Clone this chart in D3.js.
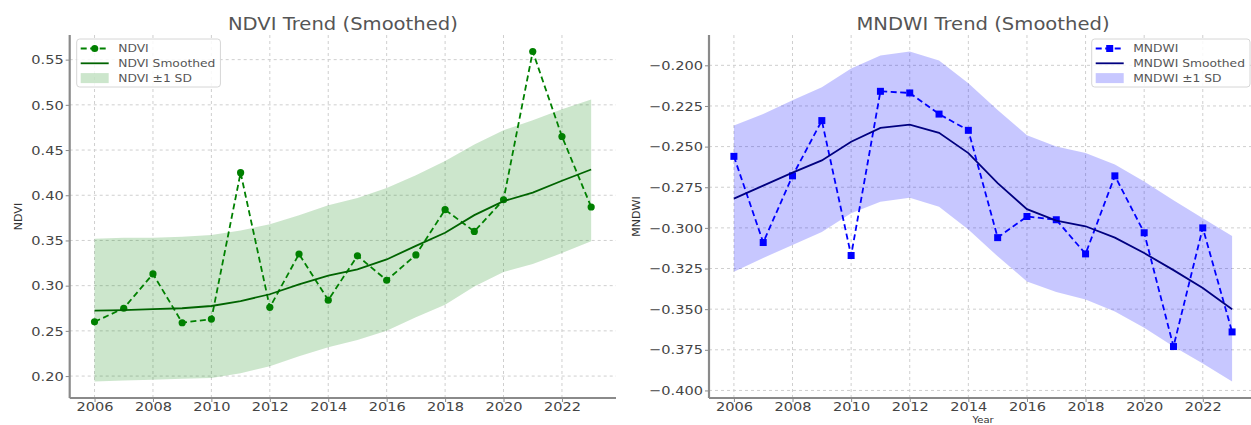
<!DOCTYPE html>
<html>
<head>
<meta charset="utf-8">
<script src="https://cdn.jsdelivr.net/npm/d3@7"></script>
<style>
  html, body { margin: 0; padding: 0; background: #fff; }
  svg { display: block; }
  svg text { font-family: "DejaVu Sans", sans-serif; }
  .wide { transform-box: fill-box; transform: scaleX(1.12); }
</style>
</head>
<body>
<svg id="fig" width="1251" height="425"></svg>
<script>
// ---- data -------------------------------------------------------------
const years = [2006, 2007, 2008, 2009, 2010, 2011, 2012, 2013, 2014, 2015,
               2016, 2017, 2018, 2019, 2020, 2021, 2022, 2023];

const ndvi        = [0.260, 0.275, 0.313, 0.259, 0.263, 0.425, 0.276, 0.335, 0.284, 0.333,
                     0.306, 0.334, 0.384, 0.360, 0.395, 0.559, 0.465, 0.387];
const ndviSmooth  = [0.2725, 0.273, 0.274, 0.275, 0.2775, 0.283, 0.2905, 0.3015, 0.311, 0.318,
                     0.329, 0.344, 0.3585, 0.378, 0.3935, 0.403, 0.416, 0.4285];
const ndviUpper   = [0.352, 0.353, 0.353, 0.354, 0.356, 0.361, 0.368, 0.378, 0.389, 0.397,
                     0.408, 0.422, 0.438, 0.456, 0.472, 0.483, 0.495, 0.506];
const ndviLower   = [0.194, 0.195, 0.196, 0.197, 0.198, 0.203, 0.211, 0.222, 0.232, 0.240,
                     0.250, 0.265, 0.279, 0.299, 0.315, 0.324, 0.336, 0.349];

const mndwi       = [-0.256, -0.309, -0.268, -0.234, -0.317, -0.216, -0.217, -0.230, -0.240, -0.306,
                     -0.293, -0.295, -0.316, -0.268, -0.303, -0.373, -0.300, -0.364];
const mndwiSmooth = [-0.282, -0.274, -0.266, -0.2585, -0.247, -0.2385, -0.2365, -0.2415, -0.254, -0.2725,
                     -0.2885, -0.2955, -0.299, -0.306, -0.3155, -0.326, -0.337, -0.350];
const mndwiUpper  = [-0.237, -0.230, -0.2215, -0.2135, -0.202, -0.194, -0.1915, -0.197, -0.211, -0.2275,
                     -0.243, -0.250, -0.254, -0.261, -0.2715, -0.283, -0.294, -0.305];
const mndwiLower  = [-0.327, -0.3185, -0.3105, -0.3025, -0.291, -0.284, -0.2815, -0.287, -0.301, -0.3175,
                     -0.333, -0.3395, -0.344, -0.3515, -0.3615, -0.373, -0.3835, -0.3945];

const xTicks      = [2006, 2008, 2010, 2012, 2014, 2016, 2018, 2020, 2022];
const ndviTicks   = [0.20, 0.25, 0.30, 0.35, 0.40, 0.45, 0.50, 0.55];
const mndwiTicks  = [-0.400, -0.375, -0.350, -0.325, -0.300, -0.275, -0.250, -0.225, -0.200];

// ---- drawing ------------------------------------------------------------
const svg = d3.select("#fig");
svg.append("rect").attr("width", 1251).attr("height", 425).attr("fill", "#fff");

const STRETCH = 1.12;

function padded(lo, hi, frac) {
  const m = (hi - lo) * frac;
  return [lo - m, hi + m];
}

function panel(cfg) {
  const top = 35, bottom = 398;
  const g = svg.append("g");

  const x = d3.scaleLinear()
    .domain(padded(d3.min(years), d3.max(years), 0.05))
    .range([cfg.left, cfg.right]);
  const allY = cfg.raw.concat(cfg.smooth, cfg.upper, cfg.lower);
  const y = d3.scaleLinear()
    .domain(padded(d3.min(allY), d3.max(allY), 0.05))
    .range([bottom, top]);

  // grid
  const grid = g.append("g").attr("stroke", "#cfcfcf").attr("stroke-width", 1)
    .attr("stroke-dasharray", "3,3");
  grid.selectAll("line.gx").data(xTicks).join("line")
    .attr("x1", d => x(d)).attr("x2", d => x(d))
    .attr("y1", top).attr("y2", bottom);
  grid.selectAll("line.gy").data(cfg.yTicks).join("line")
    .attr("x1", cfg.left).attr("x2", cfg.right)
    .attr("y1", d => y(d)).attr("y2", d => y(d));

  // ±1 SD band
  const band = d3.area()
    .x((d, i) => x(years[i]))
    .y0((d, i) => y(cfg.lower[i]))
    .y1((d, i) => y(cfg.upper[i]));
  g.append("path").datum(years).attr("d", band)
    .attr("fill", cfg.bandColor).attr("fill-opacity", cfg.bandAlpha).attr("stroke", "none");

  // raw series, dashed with markers
  const line = arr => d3.line().x((d, i) => x(years[i])).y((d, i) => y(arr[i]))(arr);
  g.append("path").attr("d", line(cfg.raw))
    .attr("fill", "none").attr("stroke", cfg.rawColor).attr("stroke-width", 1.8)
    .attr("stroke-dasharray", "6,3.5");
  if (cfg.marker === "circle") {
    g.selectAll("circle.pt").data(cfg.raw).join("circle")
      .attr("cx", (d, i) => x(years[i])).attr("cy", d => y(d)).attr("r", 3.6)
      .attr("fill", cfg.rawColor);
  } else {
    g.selectAll("rect.pt").data(cfg.raw).join("rect")
      .attr("x", (d, i) => x(years[i]) - 3.5).attr("y", d => y(d) - 3.5)
      .attr("width", 7).attr("height", 7).attr("fill", cfg.rawColor);
  }

  // smoothed trend
  g.append("path").attr("d", line(cfg.smooth))
    .attr("fill", "none").attr("stroke", cfg.smoothColor).attr("stroke-width", 1.8);

  // axes
  const xAxis = g.append("g").attr("transform", `translate(0,${bottom})`)
    .call(d3.axisBottom(x).tickValues(xTicks).tickFormat(d3.format("d"))
      .tickSize(4).tickPadding(0).tickSizeOuter(0));
  const yAxis = g.append("g").attr("transform", `translate(${cfg.left},0)`)
    .call(d3.axisLeft(y).tickValues(cfg.yTicks).tickFormat(cfg.fmt)
      .tickSize(4).tickPadding(2).tickSizeOuter(0));
  [xAxis, yAxis].forEach(a => {
    a.select(".domain").attr("stroke", "#8a8a8a").attr("stroke-width", 2.2);
    a.selectAll(".tick line").attr("stroke", "#8a8a8a").attr("stroke-width", 1);
    a.selectAll(".tick text").attr("fill", "#444").attr("font-size", 13)
      .attr("font-family", "DejaVu Sans, sans-serif").classed("wide", true);
  });
  xAxis.selectAll(".tick text").style("transform-origin", "center");
  yAxis.selectAll(".tick text").style("transform-origin", "right center");
  // spines start at the plot edges
  xAxis.select(".domain").attr("d", `M${cfg.left},0H${cfg.right}`);
  yAxis.select(".domain").attr("d", `M0,${bottom}V${top}`);

  // title
  g.append("text").attr("class", "wide")
    .attr("x", (cfg.left + cfg.right) / 2).attr("y", 30)
    .attr("text-anchor", "middle").attr("font-size", 17.5).attr("fill", "#555")
    .style("transform-origin", "center")
    .text(cfg.title);

  // axis labels
  g.append("text")
    .attr("transform", `translate(${cfg.ylabelX},${(top + bottom) / 2}) rotate(-90)`)
    .attr("text-anchor", "middle").attr("font-size", 11).attr("fill", "#333")
    .text(cfg.ylabel);
  if (cfg.xlabel) {
    g.append("text").attr("class", "wide")
      .attr("x", (cfg.left + cfg.right) / 2).attr("y", 422.8)
      .attr("text-anchor", "middle").attr("font-size", 9).attr("fill", "#333")
      .style("transform-origin", "center")
      .text(cfg.xlabel);
  }

  // legend
  const entries = [cfg.rawLabel, cfg.smoothLabel, cfg.bandLabel];
  const lg = g.append("g");
  const box = lg.append("rect");
  const texts = lg.selectAll("text").data(entries).join("text")
    .attr("class", "wide").attr("font-size", 11).attr("fill", "#555")
    .style("transform-origin", "left center")
    .attr("dy", "0.35em")
    .text(d => d);
  const maxW = d3.max(texts.nodes(), n => n.getComputedTextLength()) * STRETCH;
  const lw = 41.5 + maxW + 5, lh = 48;
  const lx = cfg.legendRight ? cfg.right - 7 - lw : cfg.left + 7;
  const ly = 39;
  box.attr("x", lx).attr("y", ly).attr("width", lw).attr("height", lh)
    .attr("rx", 3).attr("fill", "#fff").attr("fill-opacity", 0.85)
    .attr("stroke", "#d6d6d6").attr("stroke-width", 1);
  const rowY = i => ly + 9.5 + i * 14.8;
  texts.attr("x", lx + 41.5).attr("y", (d, i) => rowY(i));
  // raw handle
  lg.append("line").attr("x1", lx + 4).attr("x2", lx + 32)
    .attr("y1", rowY(0)).attr("y2", rowY(0))
    .attr("stroke", cfg.rawColor).attr("stroke-width", 1.8).attr("stroke-dasharray", "6,3.5");
  if (cfg.marker === "circle") {
    lg.append("circle").attr("cx", lx + 18).attr("cy", rowY(0)).attr("r", 3.6).attr("fill", cfg.rawColor);
  } else {
    lg.append("rect").attr("x", lx + 14.5).attr("y", rowY(0) - 3.5)
      .attr("width", 7).attr("height", 7).attr("fill", cfg.rawColor);
  }
  // smoothed handle
  lg.append("line").attr("x1", lx + 4).attr("x2", lx + 32)
    .attr("y1", rowY(1)).attr("y2", rowY(1))
    .attr("stroke", cfg.smoothColor).attr("stroke-width", 1.8);
  // band handle
  lg.append("rect").attr("x", lx + 4).attr("y", rowY(2) - 5).attr("width", 28).attr("height", 10)
    .attr("fill", cfg.bandColor).attr("fill-opacity", cfg.bandAlpha);
}

const minus = s => s.replace("-", "\u2212");

panel({
  left: 69.7, right: 616,
  raw: ndvi, smooth: ndviSmooth, upper: ndviUpper, lower: ndviLower,
  yTicks: ndviTicks, fmt: d => minus(d3.format(".2f")(d)),
  rawColor: "#008000", smoothColor: "#006400", bandColor: "green", bandAlpha: 0.2,
  marker: "circle",
  title: "NDVI Trend (Smoothed)", ylabel: "NDVI", ylabelX: 22, xlabel: null,
  rawLabel: "NDVI", smoothLabel: "NDVI Smoothed", bandLabel: "NDVI \u00b11 SD",
  legendRight: false
});

panel({
  left: 709, right: 1257,
  raw: mndwi, smooth: mndwiSmooth, upper: mndwiUpper, lower: mndwiLower,
  yTicks: mndwiTicks, fmt: d => minus(d3.format(".3f")(d)),
  rawColor: "#0000ff", smoothColor: "#000080", bandColor: "blue", bandAlpha: 0.22,
  marker: "square",
  title: "MNDWI Trend (Smoothed)", ylabel: "MNDWI", ylabelX: 640, xlabel: "Year",
  rawLabel: "MNDWI", smoothLabel: "MNDWI Smoothed", bandLabel: "MNDWI \u00b11 SD",
  legendRight: true
});
</script>
</body>
</html>
